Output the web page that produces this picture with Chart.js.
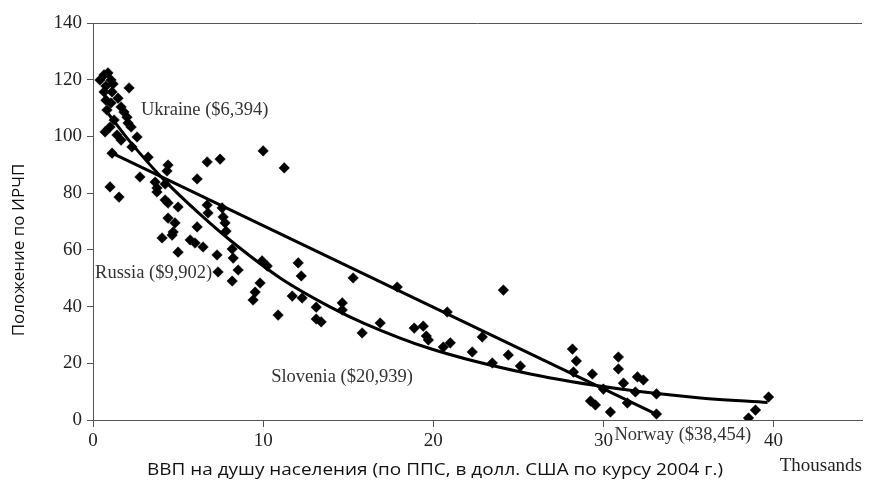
<!DOCTYPE html>
<html>
<head>
<meta charset="utf-8">
<script src="https://cdn.jsdelivr.net/npm/chart.js@4.4.1/dist/chart.umd.min.js"></script>
<style>
  html, body { margin: 0; padding: 0; background: #ffffff; }
  #wrap { width: 869px; height: 484px; position: relative; }
</style>
</head>
<body>
<div id="wrap"><canvas id="c" width="869" height="484"></canvas></div>
<script>
// ---- Data ----
// GDP per capita (PPP, thousands of 2004 USD)
const gdpThousands = [
  0.65, 0.88, 0.41, 1.06, 0.76, 1.18, 2.12, 0.65, 1.12, 0.76,
  1.47, 1.06, 1.65, 0.82, 1.82, 2.00, 1.24, 2.06, 2.24, 0.71,
  1.41, 1.00, 1.65, 2.59, 2.29, 3.24, 1.12, 4.41, 4.35, 2.76,
  3.65, 3.76, 6.12, 6.71, 7.47, 10.00, 11.24, 1.00, 1.53, 4.24,
  3.76, 4.24, 4.41, 5.00, 6.71, 6.76, 7.59, 7.65, 7.76, 7.82,
  4.41, 4.82, 6.12, 4.06, 4.65, 4.71, 5.71, 6.00, 6.47, 5.00,
  8.18, 8.24, 8.53, 7.29, 7.35, 8.18, 9.94, 10.24, 12.06, 12.24,
  9.82, 9.53, 9.41, 11.71, 12.29, 10.88, 13.12, 13.12, 13.41, 14.65,
  14.65, 15.29, 17.88, 15.82, 16.88, 18.88, 19.41, 19.59, 19.71, 20.59,
  21.00, 20.82, 22.29, 22.88, 23.47, 24.12, 24.41, 25.12, 28.18, 28.41,
  28.24, 29.35, 29.24, 29.53, 30.41, 30.00, 30.88, 30.88, 31.18, 32.00,
  32.35, 31.41, 31.88, 33.12, 33.12, 38.53, 38.94, 39.71
];
// HDI rank
const hdiRank = [
  121.7, 122.4, 119.9, 119.9, 117.8, 118.5, 117.1, 115.7, 115.7, 112.8,
  113.5, 111.8, 110.4, 109.3, 108.6, 106.8, 105.8, 104.7, 103.3, 101.6,
  100.5, 103.3, 98.7, 99.8, 96.3, 92.7, 94.1, 89.9, 87.8, 85.7,
  83.9, 81.8, 85.0, 91.0, 92.0, 94.9, 88.9, 82.2, 78.6, 83.2,
  80.4, 77.6, 76.5, 75.1, 75.8, 73.0, 74.8, 71.6, 69.5, 66.6,
  71.2, 69.5, 68.1, 64.2, 65.2, 66.3, 63.5, 62.4, 61.0, 59.2,
  60.3, 57.1, 52.9, 58.2, 52.2, 49.0, 56.1, 54.3, 55.4, 50.8,
  48.3, 45.1, 42.3, 43.7, 43.0, 37.0, 39.8, 35.6, 34.6, 41.3,
  38.8, 50.1, 46.9, 30.7, 34.2, 32.4, 33.1, 29.6, 28.2, 25.7,
  27.2, 38.1, 24.0, 29.3, 20.1, 45.8, 22.9, 19.0, 25.0, 20.8,
  16.9, 16.2, 6.7, 5.3, 2.8, 10.9, 22.2, 18.0, 13.0, 15.2,
  14.1, 6.0, 9.9, 9.2, 2.1, 0.7, 3.5, 8.1
];
// Straight trend line (read at its two ends)
const trendLinearX = [1.12, 33.1];
const trendLinearY = [94.1, 2.1];
// Curved trend line
const trendCurveX = [0.9, 2.2, 4.2, 6.3, 8.1, 11.0, 13.9, 15.9, 19.8, 25.7, 31.0, 35.7, 39.65];
const trendCurveY = [108.0, 98.0, 84.5, 72.5, 63.2, 50.1, 40.0, 34.2, 25.2, 16.2, 10.9, 7.8, 6.2];
// Axis ticks
const xTickValues = [0, 10, 20, 30, 40];
const yTickValues = [0, 20, 40, 60, 80, 100, 120, 140];
// Texts
const countryLabels = ['Ukraine ($6,394)', 'Russia ($9,902)', 'Slovenia ($20,939)', 'Norway ($38,454)'];
const xAxisTitle = 'ВВП на душу населения (по ППС, в долл. США по курсу 2004 г.)';
const yAxisTitle = 'Положение по ИРЧП';
const xUnitLabel = 'Thousands';

// ---- Build datasets ----
const scatterPts = gdpThousands.map((x, i) => ({ x: x, y: hdiRank[i] }));
const linPts = trendLinearX.map((x, i) => ({ x: x, y: trendLinearY[i] }));
const curvePts = trendCurveX.map((x, i) => ({ x: x, y: trendCurveY[i] }));

// label anchors (data units: left edge, vertical middle)
const labelAnchors = [
  { x: 2.82, y: 109.3 },
  { x: 0.12, y: 51.8 },
  { x: 10.47, y: 15.2 },
  { x: 30.65, y: -5.3 }
];

const extras = {
  id: 'extras',
  afterDraw(chart) {
    const ctx = chart.ctx;
    const ca = chart.chartArea;
    const xs = chart.scales.x, ys = chart.scales.y;
    ctx.save();
    // top border
    ctx.strokeStyle = '#555';
    ctx.lineWidth = 1;
    ctx.beginPath();
    ctx.moveTo(ca.left, Math.round(ca.top) + 0.5);
    ctx.lineTo(ca.right, Math.round(ca.top) + 0.5);
    ctx.stroke();
    // country labels
    ctx.fillStyle = '#333';
    ctx.font = '18.5px "Liberation Serif", "Times New Roman", serif';
    ctx.textBaseline = 'middle';
    ctx.textAlign = 'left';
    countryLabels.forEach((t, i) => {
      const a = labelAnchors[i];
      ctx.fillText(t, xs.getPixelForValue(a.x), ys.getPixelForValue(a.y));
    });
    // Thousands
    ctx.fillStyle = '#222';
    ctx.font = '19px "Liberation Serif", "Times New Roman", serif';
    ctx.textAlign = 'right';
    ctx.fillText(xUnitLabel, ca.right, 466);
    // x title
    ctx.font = '17px "Open Sans", "Noto Sans", sans-serif';
    ctx.fillStyle = '#111';
    ctx.textAlign = 'center';
    const w = ctx.measureText(xAxisTitle).width;
    const target = 576;
    ctx.translate(435, 470);
    ctx.scale(target / w, 1);
    ctx.fillText(xAxisTitle, 0, 0);
    ctx.restore();
    // y title
    ctx.save();
    ctx.font = '17px "Open Sans", "Noto Sans", sans-serif';
    ctx.fillStyle = '#111';
    ctx.textAlign = 'center';
    ctx.textBaseline = 'middle';
    ctx.translate(19, 250);
    ctx.rotate(-Math.PI / 2);
    ctx.fillText(yAxisTitle, 0, 0);
    ctx.restore();
  }
};

new Chart(document.getElementById('c'), {
  type: 'scatter',
  data: {
    datasets: [
      {
        type: 'line',
        data: linPts,
        borderColor: '#000',
        borderWidth: 3,
        pointRadius: 0,
        fill: false,
        tension: 0
      },
      {
        type: 'line',
        data: curvePts,
        borderColor: '#000',
        borderWidth: 3,
        pointRadius: 0,
        fill: false,
        cubicInterpolationMode: 'monotone'
      },
      {
        type: 'scatter',
        data: scatterPts,
        pointStyle: 'rectRot',
        pointRadius: 5.3,
        backgroundColor: '#000',
        borderColor: '#000',
        borderWidth: 0.5
      }
    ]
  },
  options: {
    responsive: false,
    animation: false,
    devicePixelRatio: 1,
    layout: { padding: { top: 23, right: 7, left: 0, bottom: 0 } },
    plugins: { legend: { display: false }, tooltip: { enabled: false }, title: { display: false } },
    scales: {
      x: {
        type: 'linear',
        min: 0,
        max: 45.2,
        afterFit(s) { s.height = 64; },
        afterBuildTicks(s) { s.ticks = xTickValues.map(v => ({ value: v })); },
        grid: { drawOnChartArea: false, drawTicks: true, tickLength: 7, color: '#555', lineWidth: 1 },
        border: { display: true, color: '#555', width: 1 },
        ticks: { color: '#222', padding: 3, font: { family: '"Liberation Serif", "Times New Roman", serif', size: 19 }, maxRotation: 0 }
      },
      y: {
        type: 'linear',
        min: 0,
        max: 140,
        afterFit(s) { s.width = 93; },
        afterBuildTicks(s) { s.ticks = yTickValues.map(v => ({ value: v })); },
        grid: { drawOnChartArea: false, drawTicks: true, tickLength: 6, color: '#555', lineWidth: 1 },
        border: { display: true, color: '#555', width: 1 },
        ticks: { color: '#222', padding: 5, font: { family: '"Liberation Serif", "Times New Roman", serif', size: 19 } }
      }
    }
  },
  plugins: [extras]
});
</script>
</body>
</html>
